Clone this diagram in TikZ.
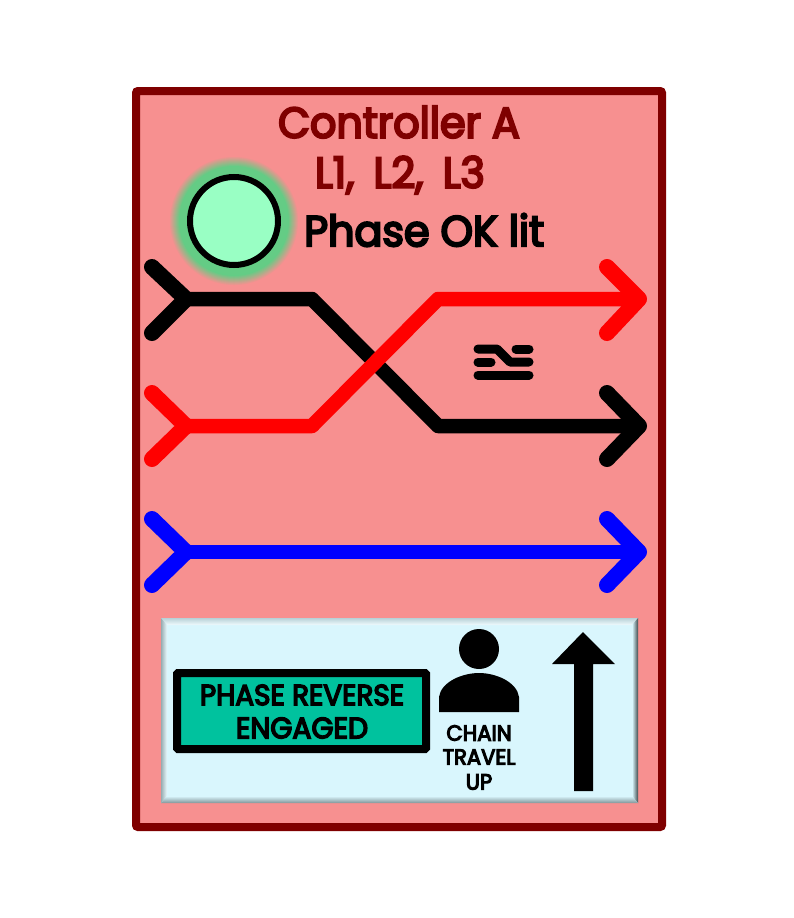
\documentclass[tikz,border=0pt]{standalone}
\usepackage{fontspec}
\setmainfont{Poppins}
\newfontfamily\signfont{Poppins}[FakeStretch=0.96,FakeBold=5]
\usepackage{tikz}
\definecolor{frameRed}{HTML}{7F0000}
\definecolor{panelPink}{HTML}{F79090}
\definecolor{glowGreen}{HTML}{64CC85}
\definecolor{lampGreen}{HTML}{99FFC4}
\definecolor{panelBlue}{HTML}{D9F6FD}
\definecolor{signGreen}{HTML}{00C29E}
\tikzset{
  phase/.style={line width=14.5pt, line cap=round, line join=round},
  chevron/.style={line width=16pt, line cap=round, line join=round},
  iconbar/.style={line width=9pt, line cap=round, line join=round},
  label/.style={inner sep=0pt, font=\signfont\fontsize{22}{22}\selectfont}
}

\begin{document}
\begin{tikzpicture}[x=1pt,y=-1pt]
  \useasboundingbox (0,0) rectangle (794,918);
  % Frame
  \draw[frameRed, fill=panelPink, line width=8pt, rounded corners=2pt] (136,91) rectangle (662,827);
  \node[inner sep=0pt, text=frameRed, font=\signfont\fontsize{43}{43}\selectfont] (title) at (399,122) {Controller A};
  \node[inner sep=0pt, text=frameRed, font=\signfont\fontsize{43}{43}\selectfont] (lines) at (400,175) {L1,\hspace{.45em}L2,\hspace{.45em}L3};
  % Lamp with its glow
  \coordinate (lampc) at (234,221);
  \foreach \r/\m in {64/10,63/20,62/30,61/40,60/50,59/60,58/70,57/80,56/90,55/100}
    \fill[glowGreen!\m!panelPink] (lampc) circle (\r);
  \draw[black, fill=lampGreen, line width=6pt] (lampc) circle (44);
  \node[inner sep=0pt, anchor=west, font=\signfont\fontsize{43}{43}\selectfont] (phaseok) at (304,230) {Phase OK lit};
  % Black phase, left fork to right chevron
  \coordinate (B0) at (186,299);
  \coordinate (B1) at (312,299);
  \coordinate (B2) at (438,426);
  \coordinate (B3) at (639,426);
  \draw[chevron] (152,267) -- (B0) -- (152,333);
  \draw[phase] (B0) -- (B1) -- (B2) -- (B3);
  \draw[chevron] (607,393) -- (B3) -- (607,459);
  % Red phase crosses over the black one
  \coordinate (R0) at (186,426);
  \coordinate (R1) at (312,426);
  \coordinate (R2) at (438,299);
  \coordinate (R3) at (639,299);
  \draw[chevron, red] (152,393) -- (R0) -- (152,459);
  \draw[phase, red] (R0) -- (R1) -- (R2) -- (R3);
  \draw[chevron, red] (607,267) -- (R3) -- (607,333);
  % Blue phase, straight
  \coordinate (L0) at (186,552);
  \coordinate (L3) at (639,552);
  \draw[chevron, blue] (152,519) -- (L0) -- (152,585);
  \draw[phase, blue] (L0) -- (L3);
  \draw[chevron, blue] (607,519) -- (L3) -- (607,585);
  % Small swap icon
  \draw[iconbar] (478,349) -- (497,349) -- (510,362) -- (529,362);
  \draw[iconbar] (478,362) -- (491,362);
  \draw[iconbar] (516,349) -- (529,349);
  \draw[iconbar] (478,375) -- (529,375);
  % Bevelled panel
  \fill[panelBlue] (161,618) rectangle (638,803);
  \shade[top color=black!15!panelBlue, bottom color=white!60!panelBlue] (161,618) -- (638,618) -- (632,625) -- (167,625) -- cycle;
  \shade[left color=black!30!panelBlue, right color=white!40!panelBlue] (161,618) -- (167,625) -- (167,796) -- (161,803) -- cycle;
  \shade[left color=panelBlue, right color=black!70!panelBlue] (638,618) -- (632,625) -- (632,796) -- (638,803) -- cycle;
  \shade[top color=panelBlue, bottom color=black!40!panelBlue] (161,803) -- (167,796) -- (632,796) -- (638,803) -- cycle;
  % Sign
  \draw[black, fill=signGreen, line width=8pt, rounded corners=1pt] (177,673) rectangle (426,749);
  \node[label, font=\signfont\fontsize{29}{29}\selectfont] (reverse) at (302,695) {PHASE REVERSE};
  \node[label, font=\signfont\fontsize{29.5}{30}\selectfont] (engaged) at (302,728) {ENGAGED};
  % Person
  \fill (479,649) circle (20);
  \fill (439,712) -- (439,697) .. controls (441,682) and (462,673) .. (479,673)
    .. controls (496,673) and (517,682) .. (519,697) -- (519,712) -- cycle;
  \node[label] (chain) at (479,733) {CHAIN};
  \node[label] (travel) at (479,757) {TRAVEL};
  \node[label] (up) at (479,782) {UP};
  % Travel arrow
  \fill (574,791) -- (574,664) -- (552,664) -- (583,632) -- (615,664) -- (593,664) -- (593,791) -- cycle;
\end{tikzpicture}
\end{document}
